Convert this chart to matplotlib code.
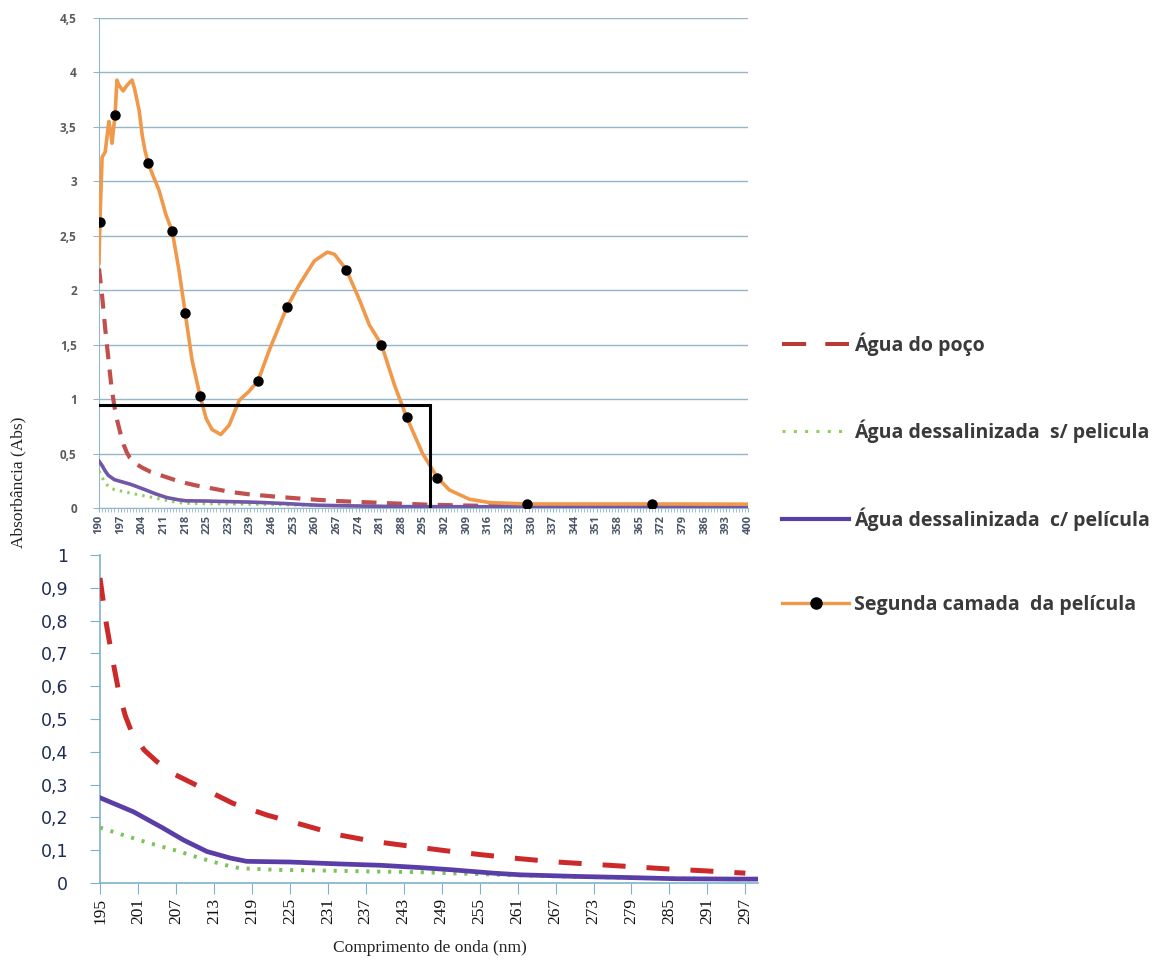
import matplotlib
matplotlib.use("Agg")
import matplotlib.pyplot as plt
from matplotlib.lines import Line2D
from matplotlib.ticker import MultipleLocator, FixedLocator, FuncFormatter

# --- Absorbance spectra (nm, Abs) ---
poco_nm = [190, 191, 192, 193, 194, 195, 196, 197, 198, 199, 200, 202, 204, 206.6, 209,
           211.3, 216, 221.4, 227.1, 232.4, 238.2, 244.5, 249.8, 255.4, 261.4, 267.2,
           273, 278.8, 284.6, 290.7, 297, 310, 330, 360, 400]
poco_abs = [2.20, 1.95, 1.65, 1.38, 1.12, 0.93, 0.79, 0.68, 0.58, 0.51, 0.46, 0.405, 0.37,
            0.333, 0.31, 0.288, 0.243, 0.207, 0.177, 0.148, 0.127, 0.111, 0.098, 0.086,
            0.074, 0.064, 0.057, 0.05, 0.043, 0.037, 0.03, 0.022, 0.016, 0.012, 0.01]

sem_nm = [190, 191, 192, 193, 194, 195, 198.7, 202.9, 207.2, 210.8, 214.5, 217.1, 223,
          230.3, 238.2, 245.6, 250, 260, 270, 285, 299, 330, 400]
sem_abs = [0.34, 0.28, 0.23, 0.20, 0.18, 0.169, 0.146, 0.121, 0.098, 0.076, 0.056, 0.045,
           0.040, 0.038, 0.035, 0.033, 0.030, 0.024, 0.019, 0.014, 0.011, 0.01, 0.01]

com_nm = [190, 191, 192, 193, 194, 195, 200.3, 205, 208.2, 211.9, 215.6, 218.2, 225, 233,
          239.3, 245.6, 250.8, 257.2, 261.4, 270.4, 277.7, 286, 295, 299, 330, 400]
com_abs = [0.43, 0.39, 0.34, 0.30, 0.28, 0.26, 0.217, 0.167, 0.131, 0.096, 0.076, 0.066,
           0.064, 0.058, 0.054, 0.047, 0.040, 0.030, 0.025, 0.020, 0.017, 0.013, 0.012,
           0.012, 0.011, 0.01]

camada_nm = [190.0, 190.3, 191.0, 192.0, 193.2, 193.8, 194.2, 195.2, 195.8, 196.5, 197.8,
             199.0, 200.7, 201.5, 203.0, 204.0, 204.9, 205.9, 207.5, 209.4, 211.7, 213.7,
             215.9, 217.9, 220.1, 222.7, 224.7, 226.6, 229.4, 232.1, 235.4, 238.5, 241.5,
             245.1, 250.9, 254.8, 259.7, 263.9, 266.2, 270.0, 274.3, 277.5, 281.4, 285.6,
             289.5, 294.7, 299.5, 303.4, 309.9, 316.4, 328.4, 368.9, 400.0]
camada_abs = [2.25, 2.63, 3.22, 3.27, 3.55, 3.45, 3.35, 3.61, 3.93, 3.88, 3.83, 3.88, 3.93,
              3.85, 3.65, 3.42, 3.28, 3.17, 3.05, 2.92, 2.69, 2.54, 2.18, 1.79, 1.36, 1.03,
              0.82, 0.72, 0.675, 0.76, 0.99, 1.07, 1.17, 1.45, 1.85, 2.05, 2.27, 2.35, 2.33,
              2.19, 1.91, 1.68, 1.50, 1.13, 0.836, 0.50, 0.279, 0.165, 0.08, 0.05, 0.037,
              0.037, 0.035]
# wavelengths that carry a marker on the orange curve
camada_marker_nm = [190.3, 195.2, 205.9, 213.7, 217.9, 222.7, 241.5, 250.9, 270.0, 281.4,
                    289.5, 299.5, 328.4, 368.9]

# cut-off box drawn on the full spectrum
cutoff_nm = 297
cutoff_abs = 0.945

# wavelength window of the lower (zoomed) chart
zoom_lo, zoom_hi = 195, 299

top_xticks = list(range(190, 401, 7))
zoom_xticks = list(range(195, 298, 6))
zoom_grid = [0.1, 0.2, 0.3, 0.4, 0.5, 0.6, 0.7, 0.8, 1.0]

labels = ["Água do poço", "Água dessalinizada  s/ pelicula",
          "Água dessalinizada  c/ película", "Segunda camada  da película"]

W, H = 1167, 960
fig = plt.figure(figsize=(W / 100, H / 100), dpi=100)


def frac(x0, y0, x1, y1):
    return [x0 / W, 1 - y1 / H, (x1 - x0) / W, (y1 - y0) / H]


def window(xs, ys):
    pts = [(x, y) for x, y in zip(xs, ys) if zoom_lo <= x <= zoom_hi]
    return [p[0] for p in pts], [p[1] for p in pts]


comma = FuncFormatter(lambda v, p: ("%g" % v).replace(".", ","))

# ---------------- full spectrum ----------------
ax1 = fig.add_axes(frac(99, 18, 748, 508))
grid1 = "#93b7c9"
ax1.plot(poco_nm, poco_abs, color="#c0504d", lw=3.0, dashes=(3.6, 2.5), zorder=3)
ax1.plot(sem_nm, sem_abs, color="#8fcf5a", lw=2.2, dashes=(0.8, 1.7), zorder=3)
ax1.plot(com_nm, com_abs, color="#7057a8", lw=2.6, zorder=4)
marks = [camada_nm.index(w) for w in camada_marker_nm]
ax1.plot(camada_nm, camada_abs, color="#f0994a", lw=2.6, marker="o", markevery=marks,
         markersize=6.5, markerfacecolor="black", markeredgecolor="black", zorder=5)
ax1.plot([190, cutoff_nm, cutoff_nm], [cutoff_abs, cutoff_abs, 0], color="black",
         lw=2.2, zorder=6, solid_joinstyle="miter")

ax1.set_xlim(190, 400)
ax1.set_ylim(0, 4.5)
ax1.yaxis.set_major_locator(MultipleLocator(0.5))
ax1.yaxis.set_major_formatter(comma)
ax1.set_xticks(top_xticks)
ax1.xaxis.set_minor_locator(MultipleLocator(1))
ax1.grid(axis="y", color=grid1, lw=1.0)
ax1.set_axisbelow(True)
for s in ["top", "right"]:
    ax1.spines[s].set_visible(False)
for s in ["left", "bottom"]:
    ax1.spines[s].set_color(grid1)
ax1.tick_params(axis="y", colors=grid1, length=4, pad=12, labelsize=8.5,
                labelcolor="#5a5a5a")
ax1.tick_params(axis="x", which="both", colors=grid1, length=3, pad=2,
                labelsize=8, labelcolor="#4a5568", labelrotation=90)
for t in ax1.get_yticklabels() + ax1.get_xticklabels():
    t.set_fontweight("bold")
    t.set_family("Open Sans")

# ---------------- zoom 195-299 nm ----------------
ax2 = fig.add_axes(frac(100, 555, 758, 883))
grid2 = "#7fb1ca"
ax2.plot(*window(poco_nm, poco_abs), color="#cc2a2a", lw=3.6, dashes=(4.6, 4.2), zorder=3)
ax2.plot(*window(sem_nm, sem_abs), color="#7cc35a", lw=2.8, dashes=(0.8, 2.0), zorder=3)
ax2.plot(*window(com_nm, com_abs), color="#5a3ea8", lw=3.4, zorder=4)
ax2.set_xlim(zoom_lo, zoom_hi)
ax2.set_ylim(0, 1)
ax2.yaxis.set_major_locator(MultipleLocator(0.1))
ax2.yaxis.set_major_formatter(comma)
ax2.yaxis.set_minor_locator(FixedLocator(zoom_grid))
ax2.set_xticks(zoom_xticks)
ax2.grid(axis="y", which="minor", color=grid2, lw=1.2)
ax2.set_axisbelow(True)
for s in ["top", "right"]:
    ax2.spines[s].set_visible(False)
for s in ["left", "bottom"]:
    ax2.spines[s].set_color(grid2)
    ax2.spines[s].set_linewidth(1.2)
ax2.tick_params(axis="y", which="minor", length=0)
ax2.tick_params(axis="y", colors=grid2, length=7, pad=16, labelsize=12.5,
                labelcolor="#1f2d52")
ax2.tick_params(axis="x", colors=grid2, length=8, pad=3, labelsize=12.5,
                labelcolor="#111111", labelrotation=90)
for t in ax2.get_xticklabels():
    t.set_family("Liberation Serif")

fig.text(18 / W, 1 - 482 / H, "Absorbância (Abs)", rotation=90, ha="center",
         va="center", family="Liberation Serif", fontsize=12.5, color="#222222")
fig.text(430 / W, 1 - 948 / H, "Comprimento de onda (nm)", ha="center", va="center",
         family="Liberation Serif", fontsize=12.5, color="#222222")

# ---------------- legend ----------------
handles = [
    Line2D([0], [0], color="#b83a36", lw=2.9, dashes=(6, 4.75)),
    Line2D([0], [0], color="#8fcf5a", lw=2.2, dashes=(1, 2.7)),
    Line2D([0], [0], color="#5a3ea8", lw=3.0),
    Line2D([0], [0], color="#f0994a", lw=2.4, marker="o", markersize=8,
           markerfacecolor="black", markeredgecolor="black"),
]
leg = fig.legend(handles, labels, loc="upper left", bbox_to_anchor=(782 / W, 1 - 332 / H),
                 frameon=False, borderaxespad=0, borderpad=0, handlelength=3.45,
                 handletextpad=0.25, labelspacing=3.3,
                 prop={"family": "Open Sans", "size": 14, "weight": "bold"})
for t in leg.get_texts():
    t.set_color("#3a3a3a")

fig.savefig("out.png", dpi=100)
